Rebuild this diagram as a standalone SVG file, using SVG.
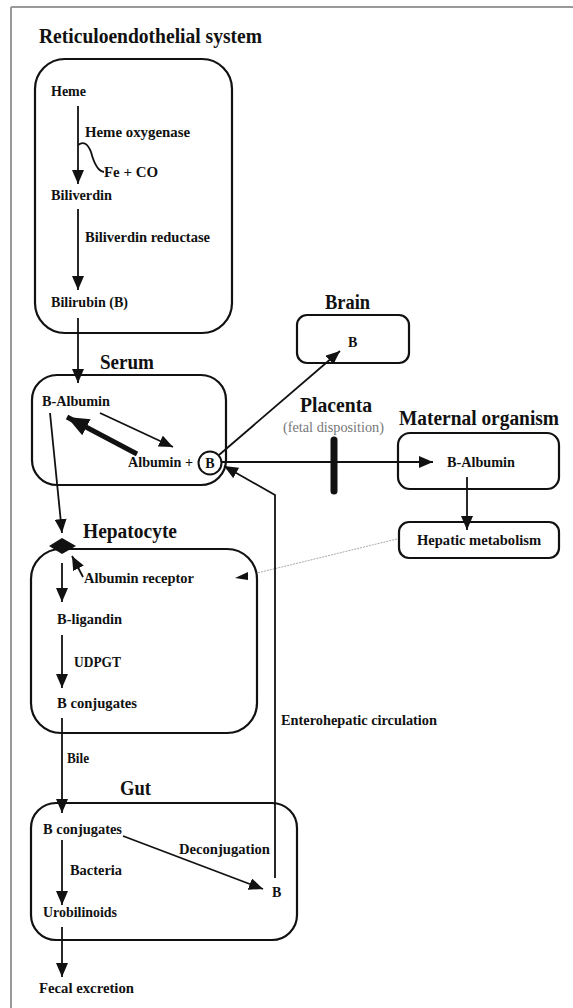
<svg xmlns="http://www.w3.org/2000/svg" width="573" height="1008" viewBox="0 0 573 1008">
<defs>
<style>
.box{fill:none;stroke:#111;stroke-width:2.2}
.ln{fill:none;stroke:#111;stroke-width:1.8}
.h{font-family:"Liberation Serif","Times New Roman",serif;font-weight:bold;font-size:20px;fill:#111}
.t{font-family:"Liberation Serif","Times New Roman",serif;font-weight:bold;font-size:14px;fill:#111}
.g{font-family:"Liberation Serif","Times New Roman",serif;font-size:14px;fill:#777}
</style>
<marker id="ah" markerUnits="userSpaceOnUse" markerWidth="14" markerHeight="12" refX="14" refY="6" orient="auto" viewBox="0 0 14 12">
<path d="M0,0 L14,6 L0,12 z" fill="#111"/>
</marker>
<marker id="ahb" markerUnits="userSpaceOnUse" markerWidth="22" markerHeight="18" refX="22" refY="9" orient="auto" viewBox="0 0 22 18">
<path d="M0,0 L22,9 L0,18 z" fill="#111"/>
</marker>
</defs>
<rect width="573" height="1008" fill="#fff"/>
<g id="frame">
<line x1="11" y1="7" x2="573" y2="7" stroke="#999" stroke-width="2"/>
<line x1="11" y1="7" x2="11" y2="1008" stroke="#999" stroke-width="2"/>
</g>

<g id="res">
<text class="h" x="39" y="43" textLength="223" lengthAdjust="spacingAndGlyphs">Reticuloendothelial system</text>
<rect class="box" x="35" y="59" width="197" height="274" rx="30"/>
<text class="t" x="51" y="96" textLength="35" lengthAdjust="spacingAndGlyphs">Heme</text>
<text class="t" x="85" y="137" textLength="105" lengthAdjust="spacingAndGlyphs">Heme oxygenase</text>
<text class="t" x="104" y="177" textLength="54" lengthAdjust="spacingAndGlyphs">Fe + CO</text>
<text class="t" x="51" y="200" textLength="61" lengthAdjust="spacingAndGlyphs">Biliverdin</text>
<text class="t" x="85" y="242" textLength="125" lengthAdjust="spacingAndGlyphs">Biliverdin reductase</text>
<text class="t" x="51" y="307" textLength="77" lengthAdjust="spacingAndGlyphs">Bilirubin (B)</text>
</g>

<g id="serum">
<text class="h" x="100" y="369" textLength="54" lengthAdjust="spacingAndGlyphs">Serum</text>
<rect class="box" x="32" y="375" width="194" height="110" rx="25"/>
<text class="t" x="42" y="406" textLength="68" lengthAdjust="spacingAndGlyphs">B-Albumin</text>
<text class="t" x="128" y="467" textLength="65" lengthAdjust="spacingAndGlyphs">Albumin +</text>
<circle cx="210" cy="463" r="11.5" fill="#fff" stroke="#111" stroke-width="2"/>
<text class="t" x="210" y="468" text-anchor="middle">B</text>
</g>

<g id="brain">
<text class="h" x="325" y="309" textLength="45" lengthAdjust="spacingAndGlyphs">Brain</text>
<rect class="box" x="297" y="315" width="112" height="48" rx="10"/>
<text class="t" x="348" y="347">B</text>
</g>

<g id="placenta">
<text class="h" x="300" y="412" textLength="72" lengthAdjust="spacingAndGlyphs">Placenta</text>
<text class="g" x="283" y="432" textLength="101" lengthAdjust="spacingAndGlyphs">(fetal disposition)</text>
<line x1="334" y1="440" x2="334" y2="491" stroke="#111" stroke-width="7" stroke-linecap="round"/>
</g>

<g id="maternal">
<text class="h" x="399" y="425" textLength="160" lengthAdjust="spacingAndGlyphs">Maternal organism</text>
<rect class="box" x="398" y="433" width="161" height="56" rx="12"/>
<text class="t" x="447" y="467" textLength="68" lengthAdjust="spacingAndGlyphs">B-Albumin</text>
</g>

<g id="hepatic-metabolism">
<rect class="box" x="399" y="522" width="160" height="36" rx="10"/>
<text class="t" x="417" y="545" textLength="124" lengthAdjust="spacingAndGlyphs">Hepatic metabolism</text>
</g>

<g id="hepatocyte">
<text class="h" x="83" y="538" textLength="94" lengthAdjust="spacingAndGlyphs">Hepatocyte</text>
<rect class="box" x="31" y="549" width="226" height="184" rx="30"/>
<polygon points="49,546 62,538 76,546 62,554" fill="#111"/>
<text class="t" x="84" y="583" textLength="110" lengthAdjust="spacingAndGlyphs">Albumin receptor</text>
<polygon points="235,578 248,572 248,580" fill="#111"/>
<text class="t" x="57" y="624" textLength="65" lengthAdjust="spacingAndGlyphs">B-ligandin</text>
<text class="t" x="74" y="667" textLength="47" lengthAdjust="spacingAndGlyphs">UDPGT</text>
<text class="t" x="57" y="708" textLength="80" lengthAdjust="spacingAndGlyphs">B conjugates</text>
</g>

<g id="gut">
<text class="h" x="120" y="795" textLength="31" lengthAdjust="spacingAndGlyphs">Gut</text>
<rect class="box" x="31" y="803" width="266" height="137" rx="25"/>
<text class="t" x="43" y="834" textLength="79" lengthAdjust="spacingAndGlyphs">B conjugates</text>
<text class="t" x="179" y="854" textLength="91" lengthAdjust="spacingAndGlyphs">Deconjugation</text>
<text class="t" x="70" y="875" textLength="52" lengthAdjust="spacingAndGlyphs">Bacteria</text>
<text class="t" x="272" y="897">B</text>
<text class="t" x="43" y="917" textLength="74" lengthAdjust="spacingAndGlyphs">Urobilinoids</text>
</g>

<g id="excretion">
<text class="t" x="39" y="993" textLength="95" lengthAdjust="spacingAndGlyphs">Fecal excretion</text>
</g>

<g id="labels">
<text class="t" x="67" y="763" textLength="22" lengthAdjust="spacingAndGlyphs">Bile</text>
<text class="t" x="281" y="725" textLength="156" lengthAdjust="spacingAndGlyphs">Enterohepatic circulation</text>
</g>

<g id="connectors">
<line class="ln" x1="78" y1="106" x2="78" y2="184" marker-end="url(#ah)"/>
<path class="ln" d="M78,145 Q86,139 91,152 Q96,171 104,172"/>
<line class="ln" x1="78" y1="209" x2="78" y2="290" marker-end="url(#ah)"/>
<line class="ln" x1="78" y1="318" x2="78" y2="383" marker-end="url(#ah)"/>
<line class="ln" x1="100" y1="413" x2="173" y2="447" marker-end="url(#ah)"/>
<line x1="137" y1="454" x2="67" y2="417" stroke="#111" stroke-width="5" marker-end="url(#ahb)"/>
<line class="ln" x1="50" y1="413" x2="62" y2="533" marker-end="url(#ah)"/>
<line class="ln" x1="219" y1="455" x2="340" y2="351" marker-end="url(#ah)"/>
<line class="ln" x1="222" y1="462" x2="433" y2="462" marker-end="url(#ah)"/>
<line class="ln" x1="467" y1="477" x2="467" y2="530" marker-end="url(#ah)"/>
<line x1="397" y1="539" x2="257" y2="573" stroke="#aaa" stroke-width="1" stroke-dasharray="2,1"/>
<line class="ln" x1="62" y1="563" x2="62" y2="602" marker-end="url(#ah)"/>
<line class="ln" x1="83" y1="577" x2="72" y2="556" marker-end="url(#ah)"/>
<line class="ln" x1="62" y1="635" x2="62" y2="688" marker-end="url(#ah)"/>
<line class="ln" x1="62" y1="718" x2="62" y2="813" marker-end="url(#ah)"/>
<line class="ln" x1="62" y1="840" x2="62" y2="905" marker-end="url(#ah)"/>
<line class="ln" x1="123" y1="836" x2="263" y2="889" marker-end="url(#ah)"/>
<line class="ln" x1="62" y1="927" x2="62" y2="977" marker-end="url(#ah)"/>
<polyline class="ln" points="275,878 275,495 224,466" marker-end="url(#ah)"/>
</g>
</svg>
